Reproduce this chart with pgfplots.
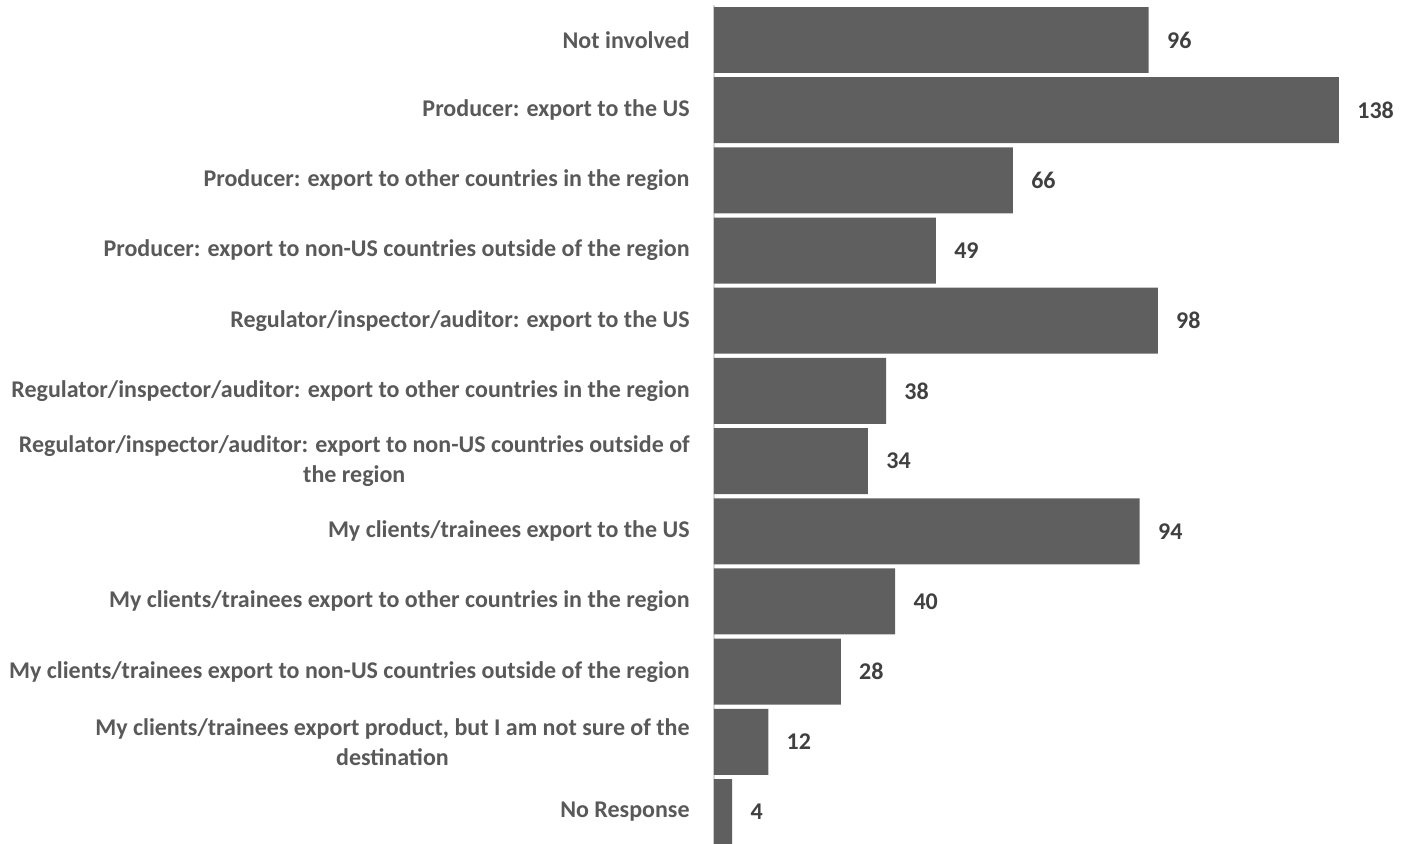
\documentclass[border=0pt]{standalone}
\usepackage{pgfplots}
\pgfplotsset{compat=1.18}
\usepackage{fontspec}
\setmainfont{Carlito}
\definecolor{barc}{HTML}{5F5F5F}
\definecolor{labc}{HTML}{595959}
\definecolor{valc}{HTML}{404040}
\definecolor{axc}{HTML}{D9D9D9}
\begin{document}
\begin{tikzpicture}
\useasboundingbox (0,0) rectangle (702.5pt,422pt);
\begin{axis}[
  at={(357pt,-1.55pt)}, anchor=south west,
  scale only axis,
  width=339.65pt, height=421.1pt,
  xbar, y dir=reverse,
  xmin=0, xmax=150,
  ymin=-0.5, ymax=11.5,
  bar width=0.94,
  axis x line=none,
  axis y line*=left,
  y axis line style={draw=axc, line width=1pt},
  ytick={0,...,11},
  major tick length=0pt,
  yticklabels={
    Not involved,
    Producer: export to the US,
    Producer: export to other countries in the region,
    Producer: export to non-US countries outside of the region,
    Regulator/inspector/auditor: export to the US,
    Regulator/inspector/auditor: export to other countries in the region,
    {Regulator/inspector/auditor: export to non-US countries outside of\\the region},
    My clients/trainees export to the US,
    My clients/trainees export to other countries in the region,
    My clients/trainees export to non-US countries outside of the region,
    {My clients/trainees export product, but I am not sure of the\\destination},
    No Response},
  yticklabel style={font=\fontsize{12}{15}\selectfont\bfseries, text=labc, align=center, inner sep=0pt, xshift=-12pt},
  nodes near coords,
  nodes near coords style={font=\fontsize{12}{14}\selectfont\bfseries, text=valc, anchor=west, inner sep=0pt, xshift=9pt, /pgf/number format/assume math mode=true},
  clip=false,
]
\addplot[fill=barc, draw=none] coordinates {
(96,0) (138,1) (66,2) (49,3) (98,4) (38,5) (34,6) (94,7) (40,8) (28,9) (12,10) (4,11)};
\end{axis}
\end{tikzpicture}
\end{document}
